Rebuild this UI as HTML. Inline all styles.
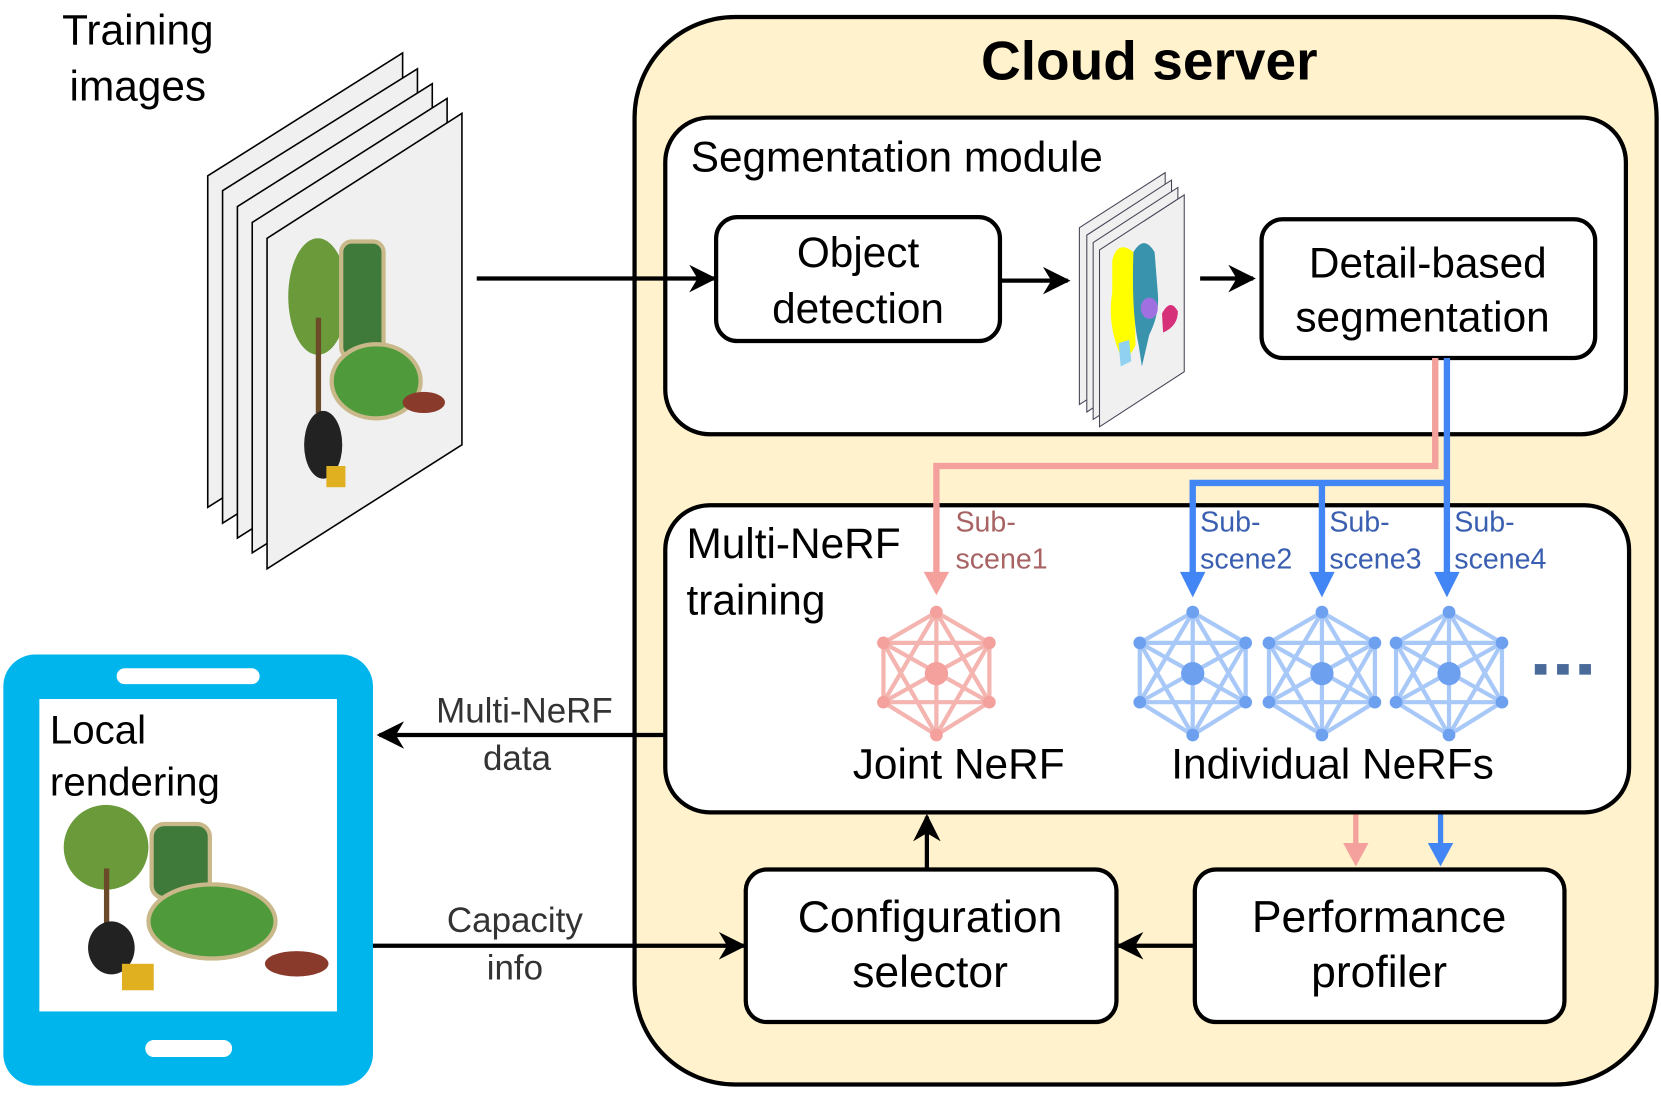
<!DOCTYPE html>
<html><head><meta charset="utf-8"><style>
html,body{margin:0;padding:0;background:#fff}
svg{display:block}
text{font-family:"Liberation Sans",Arial,sans-serif}
</style></head><body>
<svg width="1661" height="1093" viewBox="0 0 1568 1032" xmlns="http://www.w3.org/2000/svg">
<defs>
<marker id="ak" markerWidth="28" markerHeight="26" refX="9" refY="5" orient="auto" markerUnits="userSpaceOnUse" viewBox="0 0 10 10"><path d="M0,0 L10,5 L0,10 L3,5 Z" fill="#000"/></marker>
</defs>
<!-- Training images -->
<text x="130" y="42" font-size="40" text-anchor="middle">Training</text>
<text x="130" y="95" font-size="40" text-anchor="middle">images</text>
<g fill="#f0f0f0" stroke="#000" stroke-width="1.5">
<polygon points="196,166 380,50 380,363 196,479"/>
<polygon points="210,180 394,65 394,378 210,494"/>
<polygon points="224,195 408,79 408,392 224,508"/>
<polygon points="238,210 422,93 422,406 238,522"/>
<polygon points="252,225 436,107 436,420 252,537"/>
</g>
<g>
<ellipse cx="300" cy="280" rx="28" ry="55" fill="#6a9a3a"/>
<rect x="298" y="300" width="5" height="90" fill="#6b4a2a"/>
<ellipse cx="305" cy="420" rx="18" ry="32" fill="#222"/>
<rect x="322" y="228" width="40" height="110" rx="10" fill="#3f7a3a" stroke="#c9b98a" stroke-width="4"/>
<ellipse cx="355" cy="360" rx="42" ry="35" fill="#4f9a3a" stroke="#c9b98a" stroke-width="4"/>
<ellipse cx="400" cy="380" rx="20" ry="10" fill="#8a3a2a"/>
<rect x="308" y="440" width="18" height="20" fill="#e0b020"/>
</g>

<!-- Cloud server -->
<rect x="599" y="16" width="965" height="1008" rx="95" fill="#fff2cc" stroke="#000" stroke-width="4"/>
<text x="1085" y="75" font-size="52" font-weight="bold" text-anchor="middle">Cloud server</text>

<!-- Segmentation module -->
<rect x="628" y="111" width="907" height="299" rx="42" fill="#fff" stroke="#000" stroke-width="4"/>
<text x="652" y="162" font-size="40">Segmentation module</text>
<line x1="450" y1="263" x2="674" y2="263" stroke="#000" stroke-width="4" marker-end="url(#ak)"/>
<rect x="676" y="205" width="268" height="117" rx="20" fill="#fff" stroke="#000" stroke-width="4"/>
<text x="810" y="252" font-size="40" text-anchor="middle">Object</text>
<text x="810" y="305" font-size="40" text-anchor="middle">detection</text>
<line x1="945" y1="265" x2="1008" y2="265" stroke="#000" stroke-width="4" marker-end="url(#ak)"/>
<g fill="#f0f0f0" stroke="#445" stroke-width="1">
<polygon points="1019,215 1100,163 1100,330 1019,382"/>
<polygon points="1026,222 1106,170 1106,337 1026,389"/>
<polygon points="1032,229 1112,177 1112,344 1032,396"/>
<polygon points="1038,236 1118,184 1118,351 1038,403"/>
</g>
<g transform="translate(0,-24)">
<path d="M1050,270 Q1055,250 1070,262 L1072,350 Q1065,365 1058,360 Q1045,330 1050,300 Z" fill="#ffff00"/>
<path d="M1070,262 Q1080,245 1090,262 L1093,300 Q1095,320 1085,340 L1078,370 L1075,350 Q1068,320 1070,262 Z" fill="#3a93ad"/>
<ellipse cx="1085" cy="315" rx="8" ry="10" fill="#a070e0"/>
<path d="M1097,320 Q1105,305 1112,318 Q1112,332 1098,338 Z" fill="#d6307a"/>
<path d="M1056,348 L1066,345 L1068,365 L1058,370 Z" fill="#90d0f0"/>
</g>
<line x1="1133" y1="263" x2="1183" y2="263" stroke="#000" stroke-width="4" marker-end="url(#ak)"/>
<rect x="1191" y="207" width="315" height="131" rx="20" fill="#fff" stroke="#000" stroke-width="4"/>
<text x="1348" y="262" font-size="40" text-anchor="middle">Detail-based</text>
<text x="1343" y="313" font-size="40" text-anchor="middle">segmentation</text>

<!-- Multi-NeRF training -->
<rect x="628" y="477" width="910" height="290" rx="42" fill="#fff" stroke="#000" stroke-width="4"/>
<text x="648" y="527" font-size="40">Multi-NeRF</text>
<text x="648" y="580" font-size="40">training</text>

<polyline points="1355,338 1355,440 884,440 884,548" fill="none" stroke="#f4a09c" stroke-width="6"/>
<polygon points="872,540 896,540 884,562" fill="#f4a09c"/>
<polyline points="1366,338 1366,548" fill="none" stroke="#4285f4" stroke-width="6"/>
<polyline points="1126,548 1126,456 1366,456" fill="none" stroke="#4285f4" stroke-width="6"/>
<line x1="1248" y1="456" x2="1248" y2="548" stroke="#4285f4" stroke-width="6"/>
<polygon points="1114,540 1138,540 1126,564" fill="#4285f4"/>
<polygon points="1236,540 1260,540 1248,564" fill="#4285f4"/>
<polygon points="1354,540 1378,540 1366,564" fill="#4285f4"/>

<text x="902" y="502" font-size="27" fill="#a86464">Sub-</text>
<text x="902" y="537" font-size="27" fill="#a86464">scene1</text>
<g font-size="27" fill="#3a5fb0">
<text x="1133" y="502">Sub-</text><text x="1133" y="537">scene2</text>
<text x="1255" y="502">Sub-</text><text x="1255" y="537">scene3</text>
<text x="1373" y="502">Sub-</text><text x="1373" y="537">scene4</text>
</g>

<g stroke="#f4b4b0" stroke-width="4" fill="#f4a09c" transform="translate(884,636)">
<path d="M0,-58 L50,-29 L50,27 L0,58 L-50,27 L-50,-29 Z M0,-58 L0,58 M50,-29 L-50,27 M-50,-29 L50,27 M0,-58 L50,27 M0,-58 L-50,27 M50,-29 L-50,-29 M50,27 L-50,27 M50,-29 L0,58 M-50,-29 L0,58" fill="none"/>
<g stroke="none"><circle cx="0" cy="-58" r="6"/><circle cx="50" cy="-29" r="6"/><circle cx="50" cy="27" r="6"/><circle cx="0" cy="58" r="6"/><circle cx="-50" cy="27" r="6"/><circle cx="-50" cy="-29" r="6"/><circle cx="0" cy="0" r="11"/></g>
</g>
<g stroke="#a8c8f8" stroke-width="4" fill="#6ea0f0">
<g transform="translate(1126,636)"><path d="M0,-58 L50,-29 L50,27 L0,58 L-50,27 L-50,-29 Z M0,-58 L0,58 M50,-29 L-50,27 M-50,-29 L50,27 M0,-58 L50,27 M0,-58 L-50,27 M50,-29 L-50,-29 M50,27 L-50,27 M50,-29 L0,58 M-50,-29 L0,58" fill="none"/><g stroke="none"><circle cx="0" cy="-58" r="6"/><circle cx="50" cy="-29" r="6"/><circle cx="50" cy="27" r="6"/><circle cx="0" cy="58" r="6"/><circle cx="-50" cy="27" r="6"/><circle cx="-50" cy="-29" r="6"/><circle cx="0" cy="0" r="11"/></g></g>
<g transform="translate(1248,636)"><path d="M0,-58 L50,-29 L50,27 L0,58 L-50,27 L-50,-29 Z M0,-58 L0,58 M50,-29 L-50,27 M-50,-29 L50,27 M0,-58 L50,27 M0,-58 L-50,27 M50,-29 L-50,-29 M50,27 L-50,27 M50,-29 L0,58 M-50,-29 L0,58" fill="none"/><g stroke="none"><circle cx="0" cy="-58" r="6"/><circle cx="50" cy="-29" r="6"/><circle cx="50" cy="27" r="6"/><circle cx="0" cy="58" r="6"/><circle cx="-50" cy="27" r="6"/><circle cx="-50" cy="-29" r="6"/><circle cx="0" cy="0" r="11"/></g></g>
<g transform="translate(1368,636)"><path d="M0,-58 L50,-29 L50,27 L0,58 L-50,27 L-50,-29 Z M0,-58 L0,58 M50,-29 L-50,27 M-50,-29 L50,27 M0,-58 L50,27 M0,-58 L-50,27 M50,-29 L-50,-29 M50,27 L-50,27 M50,-29 L0,58 M-50,-29 L0,58" fill="none"/><g stroke="none"><circle cx="0" cy="-58" r="6"/><circle cx="50" cy="-29" r="6"/><circle cx="50" cy="27" r="6"/><circle cx="0" cy="58" r="6"/><circle cx="-50" cy="27" r="6"/><circle cx="-50" cy="-29" r="6"/><circle cx="0" cy="0" r="11"/></g></g>
</g>
<g fill="#4a6a9a"><rect x="1449" y="627" width="11" height="10"/><rect x="1470" y="627" width="11" height="10"/><rect x="1491" y="627" width="11" height="10"/></g>
<text x="905" y="735" font-size="40" text-anchor="middle">Joint NeRF</text>
<text x="1258" y="735" font-size="40" text-anchor="middle">Individual NeRFs</text>

<line x1="1280" y1="769" x2="1280" y2="800" stroke="#f4a09c" stroke-width="5"/>
<polygon points="1268,796 1292,796 1280,818" fill="#f4a09c"/>
<line x1="1360" y1="769" x2="1360" y2="800" stroke="#4285f4" stroke-width="5"/>
<polygon points="1348,796 1372,796 1360,818" fill="#4285f4"/>
<line x1="875" y1="820" x2="875" y2="771" stroke="#000" stroke-width="4" marker-end="url(#ak)"/>

<rect x="704" y="821" width="350" height="144" rx="20" fill="#fff" stroke="#000" stroke-width="4"/>
<text x="878" y="880" font-size="42" text-anchor="middle">Configuration</text>
<text x="878" y="932" font-size="42" text-anchor="middle">selector</text>
<rect x="1128" y="821" width="349" height="144" rx="20" fill="#fff" stroke="#000" stroke-width="4"/>
<text x="1302" y="880" font-size="42" text-anchor="middle">Performance</text>
<text x="1302" y="932" font-size="42" text-anchor="middle">profiler</text>
<line x1="1127" y1="893" x2="1056" y2="893" stroke="#000" stroke-width="4" marker-end="url(#ak)"/>

<!-- Phone -->
<rect x="3" y="618" width="349" height="407" rx="30" fill="#00b4ec"/>
<rect x="37" y="660" width="281" height="295" fill="#fff"/>
<rect x="110" y="631" width="135" height="15" rx="7.5" fill="#fff"/>
<rect x="137" y="982" width="82" height="16" rx="8" fill="#fff"/>
<text x="47" y="702" font-size="38">Local</text>
<text x="47" y="751" font-size="38">rendering</text>
<g>
<ellipse cx="100" cy="800" rx="40" ry="40" fill="#6a9a3a"/>
<rect x="98" y="820" width="5" height="60" fill="#6b4a2a"/>
<ellipse cx="105" cy="895" rx="22" ry="25" fill="#222"/>
<rect x="143" y="778" width="55" height="70" rx="12" fill="#3f7a3a" stroke="#c9b98a" stroke-width="4"/>
<ellipse cx="200" cy="870" rx="60" ry="35" fill="#4f9a3a" stroke="#c9b98a" stroke-width="4"/>
<ellipse cx="280" cy="910" rx="30" ry="12" fill="#8a3a2a"/>
<rect x="115" y="910" width="30" height="25" fill="#e0b020"/>
</g>

<line x1="628" y1="694" x2="358" y2="694" stroke="#000" stroke-width="4" marker-end="url(#ak)"/>
<text x="495" y="682" font-size="33" fill="#333" text-anchor="middle">Multi-NeRF</text>
<text x="488" y="727" font-size="33" fill="#333" text-anchor="middle">data</text>
<line x1="352" y1="893" x2="702" y2="893" stroke="#000" stroke-width="4" marker-end="url(#ak)"/>
<text x="486" y="880" font-size="33" fill="#333" text-anchor="middle">Capacity</text>
<text x="486" y="925" font-size="33" fill="#333" text-anchor="middle">info</text>
</svg>
</body></html>
